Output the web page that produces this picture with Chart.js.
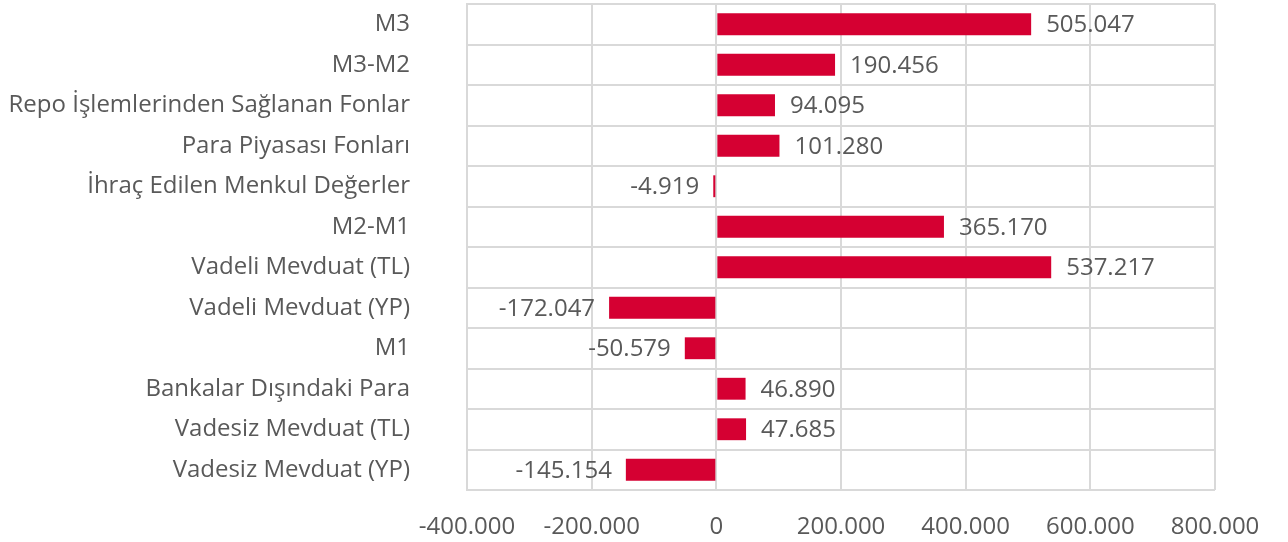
<!DOCTYPE html>
<html>
<head>
<meta charset="utf-8">
<script src="https://cdn.jsdelivr.net/npm/chart.js@4"></script>
<style>
  html, body { margin: 0; padding: 0; background: #fff; }
  #wrap { width: 1288px; height: 542px; }
</style>
</head>
<body>
<div id="wrap"><canvas id="chart" width="1288" height="542"></canvas></div>
<script>
// kalemler ve yıllık değişim
const categories = [
  "M3",
  "M3-M2",
  "Repo İşlemlerinden Sağlanan Fonlar",
  "Para Piyasası Fonları",
  "İhraç Edilen Menkul Değerler",
  "M2-M1",
  "Vadeli Mevduat (TL)",
  "Vadeli Mevduat (YP)",
  "M1",
  "Bankalar Dışındaki Para",
  "Vadesiz Mevduat (TL)",
  "Vadesiz Mevduat (YP)"
];
const values = [505047, 190456, 94095, 101280, -4919, 365170, 537217, -172047, -50579, 46890, 47685, -145154];
const xTicks = [-400000, -200000, 0, 200000, 400000, 600000, 800000];

const FONT = "'Open Sans', sans-serif";
const TEXT = "#595959";

// binlik ayırıcı nokta
function fmt(v) {
  const s = Math.abs(Math.round(v)).toString().replace(/\B(?=(\d{3})+(?!\d))/g, ".");
  return (v < 0 ? "-" : "") + s;
}

// bar etiketleri
const barLabels = {
  id: "barLabels",
  afterDatasetsDraw(chart) {
    const ctx = chart.ctx;
    const meta = chart.getDatasetMeta(0);
    ctx.save();
    ctx.font = "24px " + FONT;
    ctx.fillStyle = TEXT;
    ctx.textBaseline = "middle";
    meta.data.forEach((bar, i) => {
      const v = values[i];
      if (v >= 0) {
        ctx.textAlign = "left";
        ctx.fillText(fmt(v), bar.x + 15, bar.y + 1);
      } else {
        ctx.textAlign = "right";
        ctx.fillText(fmt(v), bar.x - 14, bar.y + 1);
      }
    });
    ctx.restore();
  }
};

new Chart(document.getElementById("chart").getContext("2d"), {
  type: "bar",
  data: {
    labels: categories,
    datasets: [{
      data: values,
      backgroundColor: "#D50032",
      borderWidth: 0,
      barPercentage: 0.54,
      categoryPercentage: 1
    }]
  },
  plugins: [barLabels],
  options: {
    indexAxis: "y",
    responsive: false,
    animation: false,
    layout: { padding: { top: 4, right: 73, left: 0, bottom: 0 } },
    plugins: { legend: { display: false }, tooltip: { enabled: false } },
    scales: {
      x: {
        min: -400000,
        max: 800000,
        afterBuildTicks: (s) => { s.ticks = xTicks.map(v => ({ value: v })); },
        afterFit: (s) => { s.height = 52; s.paddingLeft = 0; s.paddingRight = 0; },
        grid: { color: "#d9d9d9", lineWidth: 2, drawTicks: false },
        border: { display: false },
        ticks: {
          padding: 23,
          color: TEXT,
          font: { family: FONT, size: 24 },
          callback: (v) => fmt(v)
        }
      },
      y: {
        afterFit: (s) => { s.width = 467; s.paddingTop = 0; s.paddingBottom = 0; },
        grid: { color: "#d9d9d9", lineWidth: 2, drawTicks: false, offset: true },
        border: { color: "#d9d9d9", width: 2 },
        ticks: {
          padding: 57,
          color: TEXT,
          font: { family: FONT, size: 24 }
        }
      }
    }
  }
});
</script>
</body>
</html>
